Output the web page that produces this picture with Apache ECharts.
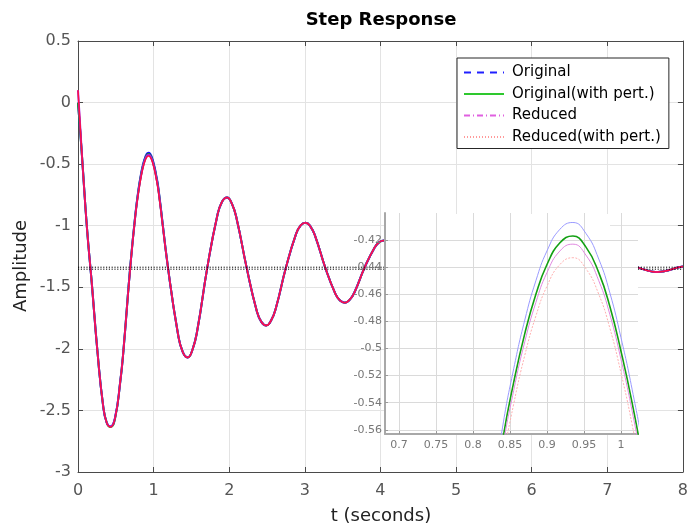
<!DOCTYPE html>
<html><head><meta charset="utf-8">
<script src="https://cdn.jsdelivr.net/npm/echarts@6/dist/echarts.min.js"></script>
<style>html,body{margin:0;padding:0;background:#fff}#c{width:691px;height:530px}</style>
</head><body><div id="c"></div>
<script>
// time samples (seconds)
const tMain = [0, 0.03, 0.06, 0.12, 0.18, 0.26, 0.33, 0.38, 0.43, 0.49, 0.56, 0.60, 0.69, 0.76, 0.805, 0.84, 0.855, 0.87, 0.885, 0.90, 0.9175, 0.935, 0.9525, 0.97, 0.985, 1.0, 1.015, 1.03, 1.065,
  1.19, 1.32, 1.385, 1.45, 1.515, 1.58, 1.71, 1.84, 1.905, 1.97, 2.035, 2.10, 2.23, 2.36, 2.425, 2.49, 2.555, 2.62, 2.75,
  2.88, 2.945, 3.01, 3.075, 3.14, 3.27, 3.40, 3.465, 3.53, 3.595, 3.66, 3.79, 3.92, 3.985, 4.05, 4.115, 4.18, 4.31,
  4.44, 4.505, 4.57, 4.635, 4.70, 4.83, 4.955, 5.02, 5.085, 5.15, 5.215, 5.34, 5.47, 5.535, 5.60, 5.665, 5.73, 5.86,
  5.99, 6.055, 6.12, 6.185, 6.25, 6.38, 6.51, 6.575, 6.64, 6.705, 6.77, 6.90, 7.025, 7.09, 7.155, 7.22, 7.285, 7.41,
  7.54, 7.605, 7.67, 7.735, 7.80, 7.93, 8.0];
// first part (t = 0 .. 1.065) differs per response
const yHeadOriginal     = [0, -0.24, -0.5, -1.03, -1.45, -2.04, -2.45, -2.60, -2.63, -2.56, -2.26, -2.02, -1.34, -0.90, -0.682, -0.558, -0.515, -0.479, -0.450, -0.428, -0.412, -0.407, -0.415, -0.434, -0.459, -0.492, -0.530, -0.575, -0.702];
const yHeadOriginalPert = [0, -0.24, -0.5, -1.03, -1.45, -2.04, -2.45, -2.60, -2.635, -2.565, -2.26, -2.02, -1.34, -0.905, -0.692, -0.568, -0.525, -0.489, -0.460, -0.438, -0.422, -0.417, -0.425, -0.444, -0.469, -0.502, -0.540, -0.585, -0.712];
const yHeadReduced      = [0.1, -0.2, -0.5, -1.03, -1.45, -2.04, -2.45, -2.60, -2.63, -2.56, -2.26, -2.02, -1.345, -0.908, -0.698, -0.574, -0.531, -0.495, -0.466, -0.444, -0.428, -0.423, -0.431, -0.450, -0.475, -0.508, -0.546, -0.591, -0.718];
const yHeadReducedPert  = [0.1, -0.2, -0.5, -1.03, -1.45, -2.04, -2.45, -2.60, -2.635, -2.565, -2.26, -2.02, -1.35, -0.913, -0.708, -0.584, -0.541, -0.505, -0.476, -0.454, -0.438, -0.433, -0.441, -0.460, -0.485, -0.518, -0.556, -0.601, -0.728];
// remaining part (t = 1.19 .. 8), the four responses overlap
const yTailShared = [-1.34, -1.871, -2.025, -2.07, -2.005, -1.841, -1.34, -0.925, -0.805, -0.77, -0.821, -0.949, -1.34,
  -1.682, -1.781, -1.81, -1.768, -1.662, -1.34, -1.074, -0.997, -0.975, -1.007, -1.09, -1.34, -1.547, -1.608, -1.625, -1.60, -1.536, -1.34,
  -1.18, -1.133, -1.12, -1.14, -1.189, -1.34, -1.464, -1.50, -1.51, -1.495, -1.457, -1.34, -1.245, -1.218, -1.21, -1.222, -1.251, -1.34,
  -1.413, -1.434, -1.44, -1.431, -1.409, -1.34, -1.285, -1.27, -1.265, -1.272, -1.289, -1.34, -1.384, -1.396, -1.40, -1.395, -1.381, -1.34,
  -1.307, -1.298, -1.295, -1.299, -1.309, -1.34, -1.365, -1.373, -1.375, -1.372, -1.364, -1.34, -1.332];
const steadyValues = [-1.337, -1.353];
const legendNames = ['Original', 'Original(with pert.)', 'Reduced', 'Reduced(with pert.)'];
const insetXTicks = [0.7, 0.75, 0.8, 0.85, 0.9, 0.95, 1];
const insetYTicks = [-0.56, -0.54, -0.52, -0.5, -0.48, -0.46, -0.44, -0.42];

function pairs(head) {
  const ys = head.concat(yTailShared);
  return tMain.map((t, i) => [t, ys[i]]);
}
const heads = [yHeadOriginal, yHeadOriginalPert, yHeadReduced, yHeadReducedPert];

const FONT = 'DejaVu Sans';
const AX = '#4a4a4a';
const LBL = '#555555';
const GRIDC = '#e3e3e3';

const mainColors = ['#1010ff', '#10a010', '#a020f0', '#ff1040'];
const mainWidths = [2, 2, 2, 1.5];
const legendStyles = [
  {color: '#2020ff', type: [7, 6], width: 1},
  {color: '#2ec82e', type: 'solid', width: 1.2},
  {color: '#e060e0', type: [6, 3, 1, 3], width: 1.2},
  {color: '#ff9a9a', type: [1, 2], width: 1}
];
const insetStyles = [
  {color: '#9a9aff', type: 'solid', width: 1},
  {color: '#13a013', type: 'solid', width: 1.6},
  {color: '#e08ae0', type: 'solid', width: 1},
  {color: '#ffb0b0', type: [2, 1.5], width: 1}
];

const series = [];
heads.forEach((h, i) => {
  series.push({
    name: legendNames[i] + ' (main)', type: 'line', xAxisIndex: 0, yAxisIndex: 0,
    data: pairs(h), symbol: 'none', showSymbol: false, smooth: 0.5,
    lineStyle: {color: mainColors[i], width: mainWidths[i]}, itemStyle: {color: mainColors[i]},
    z: 2, animation: false, silent: true
  });
});
steadyValues.forEach((v, i) => {
  series.push({
    name: 'steady' + i, type: 'line', xAxisIndex: 0, yAxisIndex: 0,
    data: [[0, v], [8, v]], symbol: 'none', showSymbol: false,
    lineStyle: {color: '#000', width: 1, type: [1.2, 1.6]}, z: 3, animation: false, silent: true
  });
});
heads.forEach((h, i) => {
  series.push({
    name: legendNames[i] + ' (zoom)', type: 'line', xAxisIndex: 2, yAxisIndex: 2,
    data: pairs(h), symbol: 'none', showSymbol: false, smooth: 0.5, clip: true,
    lineStyle: insetStyles[i], itemStyle: {color: insetStyles[i].color},
    z: 8, animation: false, silent: true
  });
});
// legend entries (line styles as in the legend box)
legendNames.forEach((n, i) => {
  series.push({
    name: n, type: 'line', xAxisIndex: 0, yAxisIndex: 0, data: [],
    symbol: 'none', showSymbol: false,
    lineStyle: legendStyles[i], itemStyle: {color: legendStyles[i].color, opacity: 0},
    animation: false, silent: true
  });
});

const chart = echarts.init(document.getElementById('c'), null, {renderer: 'canvas'});
chart.setOption({
  backgroundColor: '#fff',
  animation: false,
  grid: [
    {left: 78, top: 41, right: 7, bottom: 58},
    {left: 385, top: 213, width: 253, height: 221}
  ],
  xAxis: [
    {gridIndex: 0, type: 'value', min: 0, max: 8, interval: 1, position: 'bottom',
     axisLine: {onZero: false, lineStyle: {color: AX, width: 1}},
     axisTick: {inside: true, length: 5, lineStyle: {color: AX}},
     axisLabel: {color: LBL, fontSize: 16, fontFamily: FONT, margin: 11},
     splitLine: {show: true, lineStyle: {color: GRIDC, width: 1}}},
    {gridIndex: 0, type: 'value', min: 0, max: 8, interval: 1, position: 'top',
     axisLine: {onZero: false, lineStyle: {color: AX, width: 1}},
     axisTick: {inside: true, length: 5, lineStyle: {color: AX}},
     axisLabel: {show: false}, splitLine: {show: false}},
    {gridIndex: 1, type: 'value', min: 0.6811, max: 1.023, position: 'bottom', z: 6,
     axisLine: {onZero: false, lineStyle: {color: '#a8a8a8', width: 2}},
     axisTick: {customValues: insetXTicks, inside: true, length: 3, lineStyle: {color: '#999'}},
     axisLabel: {customValues: insetXTicks, color: '#777', fontSize: 11, fontFamily: FONT, margin: 6},
     splitLine: {show: true, lineStyle: {color: '#dadada', width: 1}}}
  ],
  yAxis: [
    {gridIndex: 0, type: 'value', min: -3, max: 0.5, interval: 0.5, position: 'left',
     axisLine: {onZero: false, lineStyle: {color: AX, width: 1}},
     axisTick: {inside: true, length: 5, lineStyle: {color: AX}},
     axisLabel: {color: LBL, fontSize: 16, fontFamily: FONT, margin: 7},
     splitLine: {show: true, lineStyle: {color: GRIDC, width: 1}}},
    {gridIndex: 0, type: 'value', min: -3, max: 0.5, interval: 0.5, position: 'right',
     axisLine: {onZero: false, lineStyle: {color: AX, width: 1}},
     axisTick: {inside: true, length: 5, lineStyle: {color: AX}},
     axisLabel: {show: false}, splitLine: {show: false}},
    {gridIndex: 1, type: 'value', min: -0.5631, max: -0.40, position: 'left', z: 6,
     axisLine: {onZero: false, lineStyle: {color: '#a8a8a8', width: 2}},
     axisTick: {customValues: insetYTicks, inside: true, length: 3, lineStyle: {color: '#999'}},
     axisLabel: {customValues: insetYTicks, color: '#777', fontSize: 11, fontFamily: FONT, margin: 3},
     splitLine: {show: true, lineStyle: {color: '#dadada', width: 1}}}
  ],
  legend: {
    show: true, orient: 'vertical', left: 457, top: 58,
    itemWidth: 40, itemHeight: 14, itemGap: 6.5,
    padding: [7, 8, 4, 6],
    backgroundColor: '#fff', borderColor: '#262626', borderWidth: 1,
    selectedMode: false, z: 20,
    textStyle: {fontFamily: FONT, fontSize: 15, color: '#000', padding: [0, 0, 0, 3]},
    data: legendNames
  },
  graphic: [
    {type: 'rect', z: 5, silent: true, shape: {x: 385, y: 214, width: 225, height: 220}, style: {fill: '#fff'}},
    {type: 'rect', z: 5, silent: true, shape: {x: 610, y: 230, width: 28, height: 204}, style: {fill: '#fff'}},
    {type: 'text', z: 10, silent: true, style: {text: 'Step Response', x: 381, y: 20, align: 'center', verticalAlign: 'middle', font: 'bold 18px "DejaVu Sans"', fill: '#000'}},
    {type: 'text', z: 10, silent: true, style: {text: 't (seconds)', x: 381, y: 516, align: 'center', verticalAlign: 'middle', font: '18px "DejaVu Sans"', fill: '#222'}},
    {type: 'text', z: 10, silent: true, x: 21, y: 266, rotation: Math.PI / 2, style: {text: 'Amplitude', x: 0, y: 0, align: 'center', verticalAlign: 'middle', font: '18px "DejaVu Sans"', fill: '#222'}}
  ],
  series: series
});
</script>
</body></html>
